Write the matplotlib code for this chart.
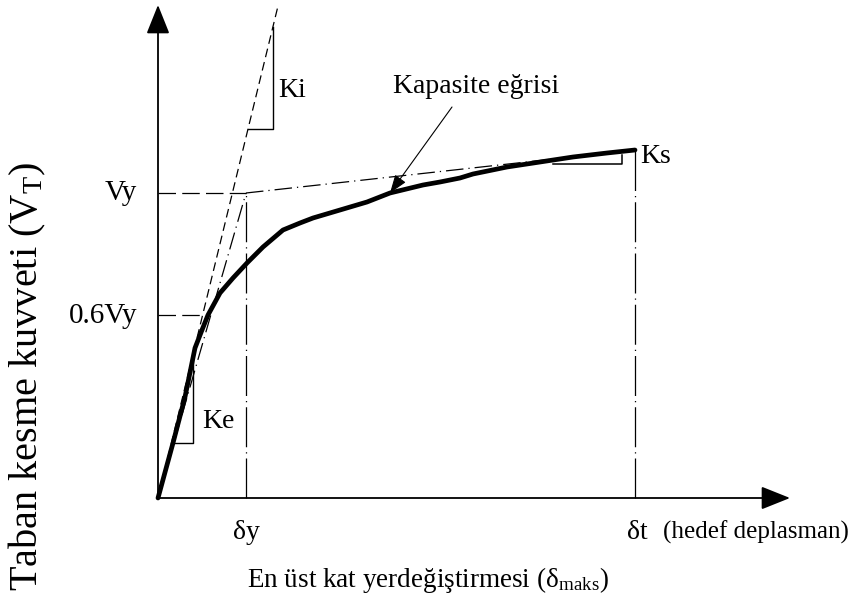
import matplotlib
matplotlib.use('Agg')
import matplotlib.pyplot as plt

plt.rcParams['font.family'] = ['Liberation Serif', 'DejaVu Serif']
plt.rcParams['mathtext.fontset'] = 'custom'
plt.rcParams['mathtext.rm'] = 'Liberation Serif'
plt.rcParams['mathtext.it'] = 'Liberation Serif:italic'

# capacity (pushover) curve: roof displacement vs. base shear, schematic units
cap_x = [0, 15, 27, 37, 44, 50, 62, 75, 89, 105, 125, 142, 155, 182, 209, 232,
         265, 282, 302, 315, 349, 382, 415, 449, 477]
cap_y = [0, 55, 101, 150, 168, 183, 205, 220, 235, 251, 268, 275, 280, 288,
         296, 305, 313, 316, 320, 324, 331, 336, 341, 345, 348]

Vy = 305           # yield base shear
Vy06 = 0.6 * Vy    # 0.6 Vy
d_y = 88           # yield displacement
d_t = 477          # target displacement
V_t = 348          # base shear at target displacement
x_06 = 50          # displacement where curve reaches 0.6 Vy

k_i = 4.1          # initial stiffness slope
ki_top = 120       # extent of the Ki line

x_max = 632        # axis extents
y_max = 493

fig = plt.figure(figsize=(8.49, 6.01), dpi=100)
ax = fig.add_axes([0, 0, 1, 1])
ax.set_xlim(-158, 691)
ax.set_ylim(-103, 498)
ax.axis('off')

# axes with arrow heads
arrow_kw = dict(arrowstyle='-|>,head_length=0.9,head_width=0.36',
                mutation_scale=20, lw=1.3, color='k', shrinkA=0, shrinkB=0)
ax.annotate('', xy=(0, y_max), xytext=(0, 0), arrowprops=arrow_kw)
ax.annotate('', xy=(x_max, 0), xytext=(0, 0), arrowprops=arrow_kw)

dash = (14, 5)
dashdot_long = (32, 4, 1, 4)
dashdot = (14, 4, 1, 4)

# initial stiffness line Ki
ax.plot([0, ki_top], [0, k_i * ki_top], color='k', lw=0.9, dashes=(7, 4))
# effective stiffness line Ke through 0.6Vy point
ax.plot([0, d_y], [0, Vy], color='k', lw=0.9, dashes=dashdot)
# post-yield secant Ks
ax.plot([d_y, d_t], [Vy, V_t], color='k', lw=0.9, dashes=dashdot)

# level lines
ax.plot([0, d_y], [Vy, Vy], color='k', lw=0.9, dashes=dash)
ax.plot([0, x_06], [Vy06, Vy06], color='k', lw=0.9, dashes=dash)
ax.plot([d_y, d_y], [0, Vy], color='k', lw=0.9, dashes=dashdot_long)
ax.plot([d_t, d_t], [0, V_t], color='k', lw=0.9, dashes=dashdot_long)

# capacity curve
ax.plot(cap_x, cap_y, color='k', lw=3.4, solid_capstyle='round',
        solid_joinstyle='round')

# slope triangles
ki_x1, ki_x2 = 90, 115
ax.plot([ki_x1, ki_x2, ki_x2], [k_i * ki_x1, k_i * ki_x1, k_i * ki_x2],
        color='k', lw=1.0)
ax.plot([15, 35, 35], [55, 55, 141], color='k', lw=1.0)
ax.plot([395, 464, 464], [334, 334, 343], color='k', lw=1.1)

fs = 20
ax.text(120, 401, 'Ki', fontsize=fs, ha='left', va='baseline')
ax.text(44, 70, 'Ke', fontsize=fs, ha='left', va='baseline')
ax.text(482, 335, 'Ks', fontsize=fs, ha='left', va='baseline')
ax.text(-21, 298, 'Vy', fontsize=21, ha='right', va='baseline')
ax.text(-21, 175, '0.6Vy', fontsize=21, ha='right', va='baseline')

ax.text(235, 405, 'Kapasite eğrisi', fontsize=fs, ha='left', va='baseline')
ax.annotate('', xy=(232, 305), xytext=(294, 391),
            arrowprops=dict(arrowstyle='-|>,head_length=0.7,head_width=0.25',
                            mutation_scale=16, lw=0.8, color='k',
                            shrinkA=0, shrinkB=0))

ax.text(d_y, -41, 'δy', fontsize=fs, ha='center', va='baseline')
ax.text(d_t + 2, -41, 'δt', fontsize=fs, ha='center', va='baseline')
ax.text(505, -41, '(hedef deplasman)', fontsize=18, ha='left', va='baseline')

ax.text(270, -89, r'En üst kat yerdeğiştirmesi (δ$_{\mathrm{maks}}$)',
        fontsize=19.5, ha='center', va='baseline')
ax.text(-131, 121, r'Taban kesme kuvveti (V$_{\mathrm{T}}$)', fontsize=29,
        ha='center', va='center', rotation=90)

fig.savefig('out.png', dpi=100)
